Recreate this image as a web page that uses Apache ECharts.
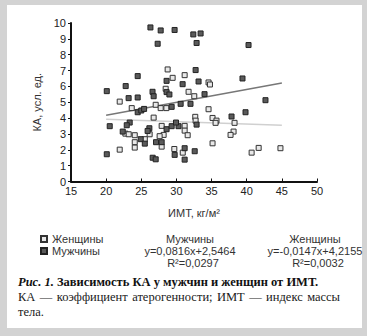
<!DOCTYPE html>
<html>
<head>
<meta charset="utf-8">
<script src="https://cdn.jsdelivr.net/npm/echarts@6/dist/echarts.min.js"></script>
<style>
html,body{margin:0;padding:0;background:#d3d3d3;}
#c{width:367px;height:336px;}
</style>
</head>
<body>
<div id="c"></div>
<script>
// ---- data ----
const seriesNames = ['Женщины', 'Мужчины'];
const xTicks = [15, 20, 25, 30, 35, 40, 45, 50];
const yTicks = [0, 1, 2, 3, 4, 5, 6, 7, 8, 9, 10];
const xAxisName = 'ИМТ, кг/м²';
const yAxisName = 'КА, усл. ед.';

const women = [
  [28.75,7.07],[31.17,6.71],[29.46,6.54],[28.47,5.85],[31.73,5.66],[32.54,5.38],[34.57,6.25],[34.77,6.12],
  [21.93,5.04],[23.64,4.63],[27.05,4.84],[27.76,4.63],[28.57,4.63],[34.57,4.56],
  [26.76,4.03],[32.68,4.08],[32.73,3.84],[35.14,4.01],[35.7,3.84],[35.57,3.70],[38.27,3.70],
  [22.74,3.02],[23.21,2.98],[24.07,2.92],[26.19,2.98],[27.9,3.51],[31.17,3.51],[31.17,3.21],[31.6,2.92],
  [28.18,2.94],[27.61,2.86],[38.13,3.15],[37.7,2.94],
  [25.5,2.67],[24.07,2.48],[24.07,2.14],[27.9,2.20],[21.93,2.01],[29.7,2.05],[30.9,1.82],[35.14,2.41],
  [41.7,2.12],[40.7,1.82],[44.8,2.10]
];
const men = [
  [26.3,9.72],[27.76,9.53],[29.74,9.56],[32.4,9.28],[33.44,9.34],[27.33,8.69],[32.87,8.74],[40.26,8.61],
  [32.73,7.03],[24.49,6.65],[28.6,6.35],[33.15,6.31],[30.88,6.14],[22.78,6.02],[39.4,6.5],[20.09,5.70],
  [26.6,5.66],[28.6,5.64],[29.0,5.49],[26.76,5.38],[23.2,5.26],[24.49,5.30],[34.0,5.51],[42.67,5.13],
  [32.0,4.90],[30.6,4.90],[29.32,4.71],[24.49,4.37],[25.0,4.48],[25.4,4.58],
  [39.83,4.37],[37.84,4.10],[32.87,3.59],[20.51,3.49],[23.35,3.72],[22.93,3.55],[22.36,3.15],[26.15,3.36],
  [25.9,3.19],[28.6,3.30],[29.32,3.49],[30.3,3.49],[29.94,3.72],
  [24.92,2.67],[25.5,2.39],[27.1,2.48],[27.9,2.48],[20.09,1.72],[29.75,1.68],[31.17,2.10],[31.17,1.38],
  [26.62,1.50],[27.05,1.40],[32.6,1.91]
];
const menTrend = [[20, 4.18], [45, 6.22]];
const womenTrend = [[20, 3.92], [45, 3.55]];

const eqHeaders = ['Мужчины', 'Женщины'];
const equations = ['y=0,0816x+2,5464', 'y=-0,0147x+4,2155'];
const rSquared = ['R²=0,0297', 'R²=0,0032'];

const captionTitleA = 'Рис. 1.';
const captionTitleB = ' Зависимость КА у мужчин и женщин от ИМТ.';
const captionLine2Words = ['КА', '—', 'коэффициент', 'атерогенности;', 'ИМТ', '—', 'индекс', 'массы'];
const captionLine3 = 'тела.';

// ---- chart ----
const chart = echarts.init(document.getElementById('c'), null, {renderer: 'svg'});
const sans = '"Liberation Sans", Arial, sans-serif';
const serif = '"Liberation Serif", "Times New Roman", serif';

// justify caption line 2
const capFont = '12.5px ' + serif;
const cv = document.createElement('canvas').getContext('2d');
cv.font = capFont;
const lineStart = 18, lineEnd = 340;
const widths = captionLine2Words.map(w => cv.measureText(w).width);
const totalW = widths.reduce((a, b) => a + b, 0);
const gap = (lineEnd - lineStart - totalW) / (captionLine2Words.length - 1);
let cx = lineStart;
const wordEls = captionLine2Words.map((w, i) => {
  const el = {type: 'text', x: cx, y: 297, style: {text: w, font: capFont, fill: '#1a1a1a', verticalAlign: 'middle'}};
  cx += widths[i] + gap;
  return el;
});

const colX = [190, 315];
const eqEls = [];
eqHeaders.forEach((h, i) => {
  eqEls.push({type: 'text', x: colX[i], y: 239, style: {text: h, font: '11px ' + sans, fill: '#333', align: 'center', verticalAlign: 'middle'}});
  eqEls.push({type: 'text', x: colX[i], y: 251, style: {text: equations[i], font: '11px ' + sans, fill: '#333', align: 'center', verticalAlign: 'middle'}});
  eqEls.push({type: 'text', x: colX[i] + 3, y: 262.5, style: {text: rSquared[i], font: '11px ' + sans, fill: '#333', align: 'center', verticalAlign: 'middle'}});
});

const option = {
  backgroundColor: '#d3d3d3',
  animation: false,
  textStyle: {fontFamily: sans},
  grid: {left: 71, right: 50, top: 23, bottom: 154.5, containLabel: false},
  legend: {
    data: seriesNames,
    orient: 'vertical',
    left: 40, top: 233, padding: 0,
    itemWidth: 6, itemHeight: 6, itemGap: 0,
    icon: 'rect',
    textStyle: {fontSize: 11, color: '#333', fontFamily: sans, lineHeight: 12},
    selectedMode: false
  },
  xAxis: {
    type: 'value', min: xTicks[0], max: xTicks[xTicks.length - 1], interval: 5,
    name: xAxisName, nameLocation: 'middle', nameGap: 26,
    nameTextStyle: {fontSize: 11, color: '#333'},
    axisLine: {lineStyle: {color: '#111', width: 2}},
    axisTick: {inside: true, length: 3, lineStyle: {color: '#111', width: 1}},
    axisLabel: {fontSize: 11, color: '#222', margin: 4},
    splitLine: {show: false}
  },
  yAxis: {
    type: 'value', min: yTicks[0], max: yTicks[yTicks.length - 1], interval: 1,
    name: yAxisName, nameLocation: 'middle', nameGap: 27, nameRotate: 90,
    nameTextStyle: {fontSize: 11, color: '#333'},
    axisLine: {show: true, lineStyle: {color: '#111', width: 2}},
    axisTick: {show: true, length: 3, lineStyle: {color: '#111', width: 1}},
    axisLabel: {fontSize: 11, color: '#222', margin: 5},
    splitLine: {show: false}
  },
  graphic: [
    {type: 'rect', z: -10, silent: true, shape: {x: 7, y: 5, width: 355, height: 323}, style: {fill: '#ffffff'}},
    {type: 'text', x: 18, y: 282, style: {
      text: '{a|' + captionTitleA + '}{b|' + captionTitleB + '}',
      verticalAlign: 'middle',
      rich: {
        a: {font: 'italic bold 12.5px ' + serif, fill: '#111'},
        b: {font: 'bold 12.5px ' + serif, fill: '#111'}
      }
    }},
    ...wordEls,
    {type: 'text', x: 18, y: 312, style: {text: captionLine3, font: capFont, fill: '#1a1a1a', verticalAlign: 'middle'}},
    ...eqEls
  ],
  series: [
    {
      name: 'menTrend', type: 'line', data: menTrend, symbol: 'none', z: 1,
      lineStyle: {color: '#777', width: 1.5}, silent: true
    },
    {
      name: 'womenTrend', type: 'line', data: womenTrend, symbol: 'none', z: 1,
      lineStyle: {color: '#d0d0d0', width: 1.5}, silent: true
    },
    {
      name: seriesNames[0], type: 'scatter', data: women, symbol: 'rect', symbolSize: 5, z: 3,
      itemStyle: {color: '#e8e8e8', borderColor: '#333', borderWidth: 1, opacity: 1}
    },
    {
      name: seriesNames[1], type: 'scatter', data: men, symbol: 'rect', symbolSize: 5, z: 3,
      itemStyle: {color: '#5a5a5a', borderColor: '#222', borderWidth: 1, opacity: 1}
    }
  ]
};
chart.setOption(option);
</script>
</body>
</html>
